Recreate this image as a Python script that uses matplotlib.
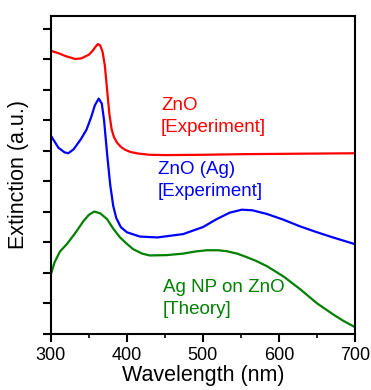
import numpy as np
import matplotlib
matplotlib.use('Agg')
import matplotlib.pyplot as plt
from matplotlib.ticker import MultipleLocator

plt.rcParams['font.family'] = ['Liberation Sans', 'DejaVu Sans']

# ZnO [Experiment]
wl_red = [300, 310, 320, 332, 340, 350, 355, 359, 362, 365, 368, 371, 374, 377, 380, 383,
          387, 392, 398, 405, 415, 430, 450, 500, 550, 600, 650, 700]
ext_red = [9.28, 9.2, 9.1, 9.01, 9.03, 9.15, 9.28, 9.42, 9.5, 9.45, 9.25, 8.8, 8.0, 7.2, 6.7, 6.45,
           6.27, 6.13, 6.03, 5.96, 5.91, 5.87, 5.86, 5.87, 5.89, 5.90, 5.91, 5.92]

# ZnO (Ag) [Experiment]
wl_blue = [300, 310, 318, 323, 330, 340, 347, 353, 358, 363, 367, 370, 374, 378, 382,
           386, 392, 400, 417, 440, 474, 500, 518, 535, 551, 565, 584, 605, 628, 650,
           671, 700]
ext_blue = [6.5, 6.1, 5.95, 5.92, 6.05, 6.4, 6.7, 7.1, 7.5, 7.71, 7.55, 7.0, 5.9, 4.9, 4.2,
            3.8, 3.5, 3.33, 3.19, 3.16, 3.27, 3.5, 3.76, 3.97, 4.07, 4.05, 3.93, 3.75, 3.52, 3.33,
            3.16, 2.94]

# Ag NP on ZnO [Theory]
wl_green = [300, 305, 312, 321, 332, 343, 350, 357, 365, 374, 382, 391, 400, 408, 420,
            430, 452, 474, 490, 505, 520, 531, 545, 557, 570, 584, 606, 628, 650, 671,
            685, 700]
ext_green = [1.95, 2.35, 2.7, 2.94, 3.3, 3.7, 3.9, 4.01, 3.95, 3.76, 3.45, 3.16, 2.95, 2.78, 2.63,
             2.57, 2.58, 2.63, 2.7, 2.74, 2.74, 2.71, 2.63, 2.52, 2.39, 2.22, 1.88, 1.46, 1.0, 0.64,
             0.42, 0.22]

fig = plt.figure(figsize=(3.71, 3.90), dpi=100)
ax = fig.add_axes([0.137, 0.144, 0.820, 0.815])

ax.plot(wl_red, ext_red, color='#ff0000', lw=1.6)
ax.plot(wl_blue, ext_blue, color='#0000ff', lw=1.6)
ax.plot(wl_green, ext_green, color='#008000', lw=1.6)

ax.text(0.362, 0.745, 'ZnO\n[Experiment]', color='#ff0000', fontsize=13.5,
        transform=ax.transAxes, va='top', linespacing=1.4)
ax.text(0.352, 0.545, 'ZnO (Ag)\n[Experiment]', color='#0000ff', fontsize=13.5,
        transform=ax.transAxes, va='top', linespacing=1.4)
ax.text(0.368, 0.172, 'Ag NP on ZnO\n[Theory]', color='#008000', fontsize=13.5,
        transform=ax.transAxes, va='top', linespacing=1.4)

ax.set_xlim(300, 700)
ax.set_ylim(0, 10.42)
ax.xaxis.set_major_locator(MultipleLocator(100))
ax.xaxis.set_minor_locator(MultipleLocator(50))
ax.yaxis.set_major_locator(MultipleLocator(1))
ax.set_yticklabels([])
ax.tick_params(which='major', direction='out', length=6, width=1.5, labelsize=13)
ax.tick_params(which='minor', direction='out', length=3, width=1.2)
for s in ax.spines.values():
    s.set_linewidth(1.5)

ax.set_xlabel('Wavelength (nm)', fontsize=15.5, labelpad=1)
ax.set_ylabel('Extinction (a.u.)', fontsize=15.5, labelpad=6)

fig.savefig('out.png', dpi=100)
